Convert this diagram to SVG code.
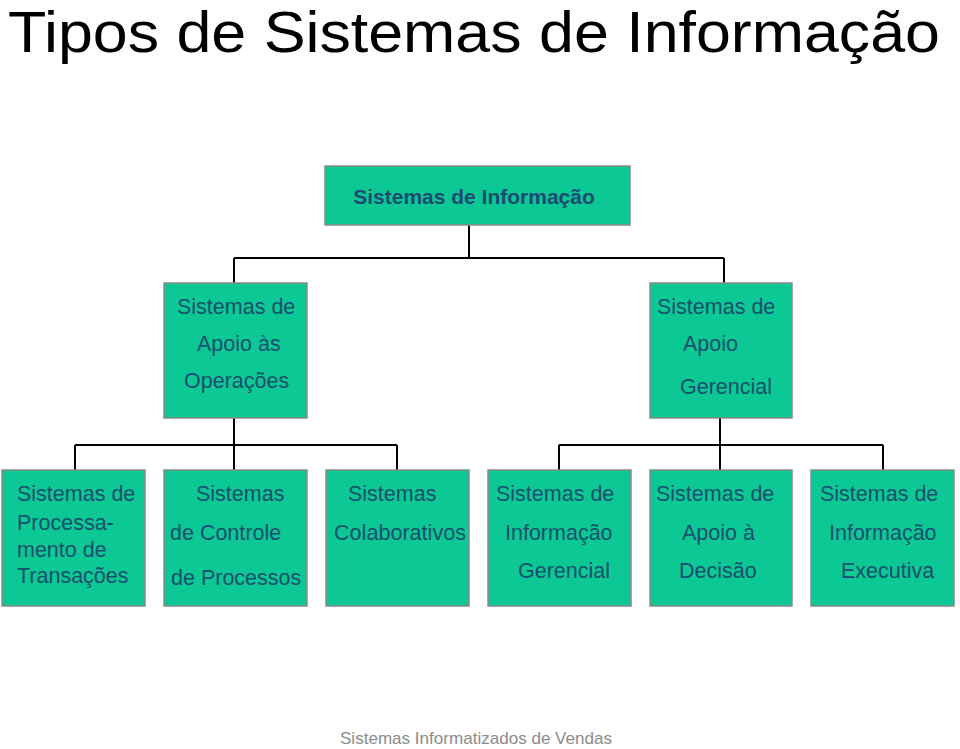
<svg xmlns="http://www.w3.org/2000/svg" width="960" height="749" viewBox="0 0 960 749">
<style>
.box{fill:#0BC894;stroke:#8a8a8a;stroke-width:1.5}
.t{font-family:"Liberation Sans",Arial,sans-serif;font-size:21.5px;fill:#16506E}
.tb{font-family:"Liberation Sans",Arial,sans-serif;font-size:21px;font-weight:bold;fill:#1B4A72}
.ln{stroke:#000;stroke-width:2;fill:none}
</style>
<rect width="960" height="749" fill="#fff"/>
<text x="8" y="52" font-family="Liberation Sans,Arial,sans-serif" font-size="57" fill="#000" textLength="932" lengthAdjust="spacingAndGlyphs">Tipos de Sistemas de Informação</text>
<g id="connectors">
<path class="ln" d="M469,225V258M234,258H724M234,258V283M724,258V283"/>
<path class="ln" d="M234,418V470M75,445H397M75,445V470M397,445V470"/>
<path class="ln" d="M720,418V470M559,445H883M559,445V470M883,445V470"/>
</g>
<g id="n-root"><rect class="box" x="325" y="166" width="305" height="59"/><text class="tb" x="474" y="204" text-anchor="middle">Sistemas de Informação</text></g>
<g id="n-operacoes"><rect class="box" x="164" y="283" width="143" height="135"/><text class="t" x="177" y="314">Sistemas de</text><text class="t" x="197" y="351">Apoio às</text><text class="t" x="184" y="388">Operações</text></g>
<g id="n-gerencial"><rect class="box" x="650" y="283" width="142" height="135"/><text class="t" x="657" y="314">Sistemas de</text><text class="t" x="683" y="351">Apoio</text><text class="t" x="680" y="394">Gerencial</text></g>
<g id="n-spt"><rect class="box" x="2" y="470" width="143" height="136"/><text class="t" x="17" y="501">Sistemas de</text><text class="t" x="17" y="530">Processa-</text><text class="t" x="17" y="557">mento de</text><text class="t" x="17" y="583">Transações</text></g>
<g id="n-scp"><rect class="box" x="164" y="470" width="143" height="136"/><text class="t" x="196" y="501">Sistemas</text><text class="t" x="170" y="540">de Controle</text><text class="t" x="171" y="585">de Processos</text></g>
<g id="n-col"><rect class="box" x="326" y="470" width="143" height="136"/><text class="t" x="348" y="501">Sistemas</text><text class="t" x="334" y="540" textLength="132" lengthAdjust="spacingAndGlyphs">Colaborativos</text></g>
<g id="n-sig"><rect class="box" x="488" y="470" width="143" height="136"/><text class="t" x="496" y="501">Sistemas de</text><text class="t" x="505" y="540">Informação</text><text class="t" x="518" y="578">Gerencial</text></g>
<g id="n-sad"><rect class="box" x="650" y="470" width="142" height="136"/><text class="t" x="656" y="501">Sistemas de</text><text class="t" x="682" y="540">Apoio à</text><text class="t" x="679" y="578">Decisão</text></g>
<g id="n-sie"><rect class="box" x="811" y="470" width="143" height="136"/><text class="t" x="820" y="501">Sistemas de</text><text class="t" x="829" y="540">Informação</text><text class="t" x="841" y="578">Executiva</text></g>
<text x="340" y="744" font-family="Liberation Sans,Arial,sans-serif" font-size="17" fill="#8c8c8c" textLength="272" lengthAdjust="spacingAndGlyphs">Sistemas Informatizados de Vendas</text>
</svg>
